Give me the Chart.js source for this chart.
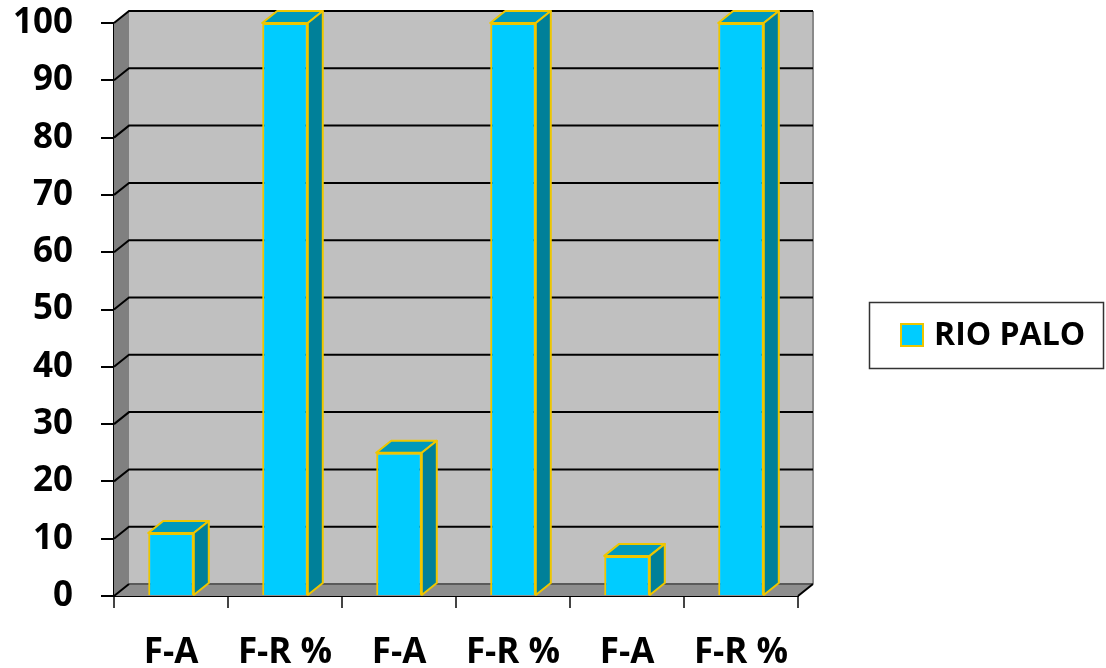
<!DOCTYPE html>
<html><head><meta charset="utf-8">
<script src="https://cdn.jsdelivr.net/npm/chart.js@4"></script>
<style>html,body{margin:0;padding:0;background:#fff}#wrap{width:1106px;height:668px;position:relative}</style>
</head><body><div id="wrap"><canvas id="c"></canvas></div>
<script>
const categories = ["F-A", "F-R %", "F-A", "F-R %", "F-A", "F-R %"];
const seriesName = "RIO PALO";
const rioPalo = [11, 100, 25, 100, 7, 100];
const yMin = 0, yMax = 100, yStep = 10;

const FONT = "'Open Sans', Lato, sans-serif";
const WEIGHT = '700';
const WDX = 15, WDY = -12;   // wall depth
const BDX = 15, BDY = -12;   // bar depth
const GOLD = '#EEC600';

const wallPlugin = {
  id: 'walls',
  beforeDatasetsDraw(chart) {
    const {ctx, chartArea: a, scales: {y}} = chart;
    const L = a.left, R = a.right, B = y.getPixelForValue(yMin), T = y.getPixelForValue(yMax);
    ctx.save();
    ctx.fillStyle = '#C0C0C0';
    ctx.fillRect(L + WDX, T + WDY, R - L, B - T);
    ctx.fillStyle = '#808080';
    ctx.beginPath();
    ctx.moveTo(L, T); ctx.lineTo(L + WDX, T + WDY); ctx.lineTo(L + WDX, B + WDY); ctx.lineTo(L, B);
    ctx.closePath(); ctx.fill();
    ctx.fillStyle = '#8E8E8E';
    ctx.beginPath();
    ctx.moveTo(L, B); ctx.lineTo(L + WDX, B + WDY); ctx.lineTo(R + WDX, B + WDY); ctx.lineTo(R, B);
    ctx.closePath(); ctx.fill();
    ctx.strokeStyle = '#8A8A8A'; ctx.lineWidth = 2;
    ctx.beginPath(); ctx.moveTo(R + WDX, T + WDY); ctx.lineTo(R + WDX, B + WDY); ctx.stroke();
    ctx.strokeStyle = '#5A5A5A';
    ctx.beginPath(); ctx.moveTo(L + WDX, B + WDY); ctx.lineTo(R + WDX, B + WDY); ctx.stroke();
    ctx.strokeStyle = '#000';
    ctx.beginPath(); ctx.moveTo(R, B); ctx.lineTo(R + WDX, B + WDY); ctx.stroke();
    ctx.strokeStyle = '#000'; ctx.lineWidth = 2;
    for (let v = yMin; v <= yMax; v += yStep) {
      const py = y.getPixelForValue(v);
      ctx.beginPath();
      ctx.moveTo(L, py); ctx.lineTo(L + WDX, py + WDY);
      if (v > yMin) ctx.lineTo(R + WDX, py + WDY);
      ctx.stroke();
    }
    ctx.restore();
  },
  afterDatasetsDraw(chart) {
    const {ctx} = chart;
    const meta = chart.getDatasetMeta(0);
    ctx.save();
    ctx.lineWidth = 2; ctx.lineJoin = 'round'; ctx.strokeStyle = GOLD;
    meta.data.forEach(el => {
      const {x, y, base, width} = el.getProps(['x', 'y', 'base', 'width'], true);
      const l = x - width / 2, r = x + width / 2;
      ctx.fillStyle = '#0099BB';
      ctx.beginPath();
      ctx.moveTo(l, y); ctx.lineTo(l + BDX, y + BDY); ctx.lineTo(r + BDX, y + BDY); ctx.lineTo(r, y);
      ctx.closePath(); ctx.fill(); ctx.stroke();
      ctx.fillStyle = '#008099';
      ctx.beginPath();
      ctx.moveTo(r, y); ctx.lineTo(r + BDX, y + BDY); ctx.lineTo(r + BDX, base + BDY); ctx.lineTo(r, base);
      ctx.closePath(); ctx.fill(); ctx.stroke();
    });
    ctx.restore();
  },
  afterDraw(chart) {
    const {ctx} = chart;
    ctx.save();
    ctx.strokeStyle = '#333'; ctx.lineWidth = 1.5;
    ctx.strokeRect(869.5, 302.5, 234, 66);
    ctx.fillStyle = '#00CCFF'; ctx.strokeStyle = GOLD; ctx.lineWidth = 2;
    ctx.fillRect(901, 324, 22, 22); ctx.strokeRect(901, 324, 22, 22);
    ctx.fillStyle = '#000';
    ctx.font = WEIGHT + " 32px " + FONT;
    ctx.textBaseline = 'middle'; ctx.textAlign = 'left';
    ctx.fillText(chart.data.datasets[0].label, 934, 336);
    ctx.restore();
  }
};

new Chart(document.getElementById('c'), {
  type: 'bar',
  data: {
    labels: categories,
    datasets: [{
      label: seriesName,
      data: rioPalo,
      backgroundColor: '#00CCFF',
      borderColor: GOLD,
      borderWidth: 2,
      categoryPercentage: 1,
      barPercentage: 0.4
    }]
  },
  options: {
    responsive: true,
    maintainAspectRatio: false,
    animation: false,
    layout: {padding: {top: 23, right: 308, left: 0, bottom: 0}},
    plugins: {legend: {display: false}, tooltip: {enabled: false}},
    scales: {
      x: {
        afterFit(s) { s.height = 72; },
        grid: {drawOnChartArea: false, drawTicks: true, tickLength: 12, color: '#444', lineWidth: 2},
        border: {display: true, color: '#000', width: 2},
        ticks: {color: '#000', font: {family: FONT, weight: WEIGHT, size: 35}, padding: 24, maxRotation: 0, autoSkip: false}
      },
      y: {
        min: yMin, max: yMax,
        afterFit(s) { s.width = 114; s.paddingTop = 0; s.paddingBottom = 0; },
        grid: {drawOnChartArea: false, drawTicks: true, tickLength: 13, color: '#000', lineWidth: 2},
        border: {display: true, color: '#000', width: 2},
        ticks: {stepSize: yStep, color: '#000', font: {family: FONT, weight: WEIGHT, size: 35}, padding: 28}
      }
    }
  },
  plugins: [wallPlugin]
});
</script>
</body></html>
